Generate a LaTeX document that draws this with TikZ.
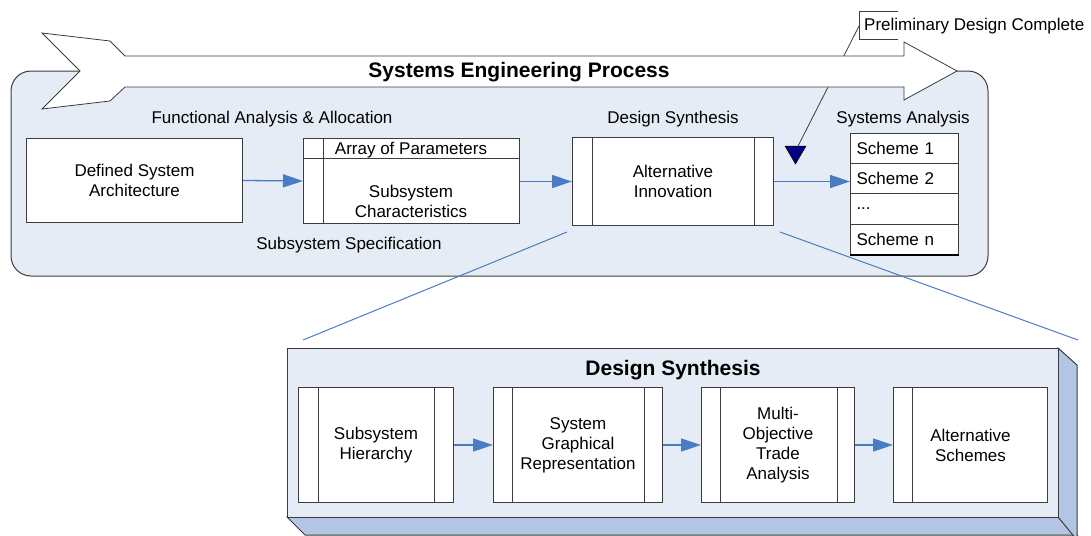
\documentclass[tikz,border=0pt]{standalone}
\usepackage{fontspec}
\setmainfont{Liberation Sans}
\usetikzlibrary{arrows.meta}
\definecolor{panel}{RGB}{230,236,246}
\definecolor{side}{RGB}{178,198,228}
\definecolor{flow}{RGB}{74,124,196}
\definecolor{edge}{RGB}{60,60,60}
\definecolor{marker}{RGB}{0,0,128}
\begin{document}
\begin{tikzpicture}[x=1pt,y=-1pt,
  font=\fontsize{17}{20}\selectfont,
  box/.style={draw=edge, fill=white, line width=1pt, inner sep=0pt,
              align=center, anchor=north west},
  bar/.style={draw=edge, line width=1pt},
  flowarrow/.style={draw=flow, line width=1.3pt,
                    -{Triangle[length=20pt,width=13pt]}},
  zoomline/.style={draw=flow, line width=1pt},
  label/.style={inner sep=0pt},
  heading/.style={inner sep=0pt, font=\fontsize{21}{24}\selectfont\bfseries}]

\useasboundingbox (0,0) rectangle (1091,535);
\clip (0,0) rectangle (1091,535);

% process panel
\draw[fill=panel, draw=edge, line width=1pt, rounded corners=20pt]
  (11,71) rectangle (988,276);

% milestone flag and its leader line (passes under the process arrow)
\coordinate (flagtip) at (795,152);
\draw[edge, line width=0.8pt] (859,26) -- (flagtip);
\draw[edge, line width=0.8pt] (898,11) -- (859,11) -- (859,39) -- (898,39);
\node[label, anchor=west] (pdc) at (864,26) {Preliminary Design Complete};

% process arrow
\draw[fill=white, draw=edge, line width=0.8pt]
  (42,33) -- (110,41) -- (125,56) -- (904,56) -- (904,42) -- (957,71)
  -- (904,100) -- (904,87) -- (125,87) -- (110,101) -- (42,109)
  -- (80,71) -- cycle;
\node[heading] (sep) at (519,72.5) {Systems Engineering Process};

% milestone marker
\fill[marker, draw=black, line width=0.5pt]
  (785,146) -- (806,146) -- (795.5,164) -- cycle;

% stage labels
\node[label] (faa) at (272,119.5) {Functional Analysis \& Allocation};
\node[label] (dsl) at (673,119.5) {Design Synthesis};
\node[label] (sal) at (903,119.5) {Systems Analysis};
\node[label] (ssp) at (349,245.5) {Subsystem Specification};

% top row
\node[box, minimum width=216pt, minimum height=84pt] (dsa) at (26,138)
  {Defined System\\Architecture};

\node[box, minimum width=216pt, minimum height=85pt] (ssc) at (303,138) {};
\draw[bar] (303,158) -- (519,158);
\draw[bar] (323,138) -- (323,223);
\node[label] (aop) at (411,150) {Array of Parameters};
\node[label, align=center] (sch) at (411,201) {Subsystem\\Characteristics};

\node[box, minimum width=201pt, minimum height=88pt] (ai) at (572,137)
  {Alternative\\Innovation};
\draw[bar] ([xshift=20pt]ai.north west) -- ([xshift=20pt]ai.south west);
\draw[bar] ([xshift=-20pt]ai.north east) -- ([xshift=-20pt]ai.south east);

% scheme list
\tikzset{scheme/.style={box, minimum width=108pt, anchor=north west,
      text width=96pt, align=left}}
\node[scheme, minimum height=30pt] (s1) at (850,133) {Scheme 1};
\node[scheme, minimum height=30pt] (s2) at (850,163) {Scheme 2};
\node[scheme, minimum height=31pt] (s3) at (850,193) {...};
\node[scheme, minimum height=30pt] (s4) at (850,224) {Scheme n};
\draw[black, line width=2pt] (s4.south west) -- (s4.south east);

% top row connectors
\draw[flowarrow] (dsa.east) -- (ssc.west);
\draw[flowarrow] (ssc.east |- ai.west) -- (ai.west);
\draw[flowarrow] (ai.east) -- (ai.east -| s2.west);

% zoom lines
\coordinate (zl) at (303,340);
\coordinate (zr) at (1078,340);
\draw[zoomline] (567,232) -- (zl);
\draw[zoomline] (780,232) -- (zr);

% design synthesis block (3-D)
\draw[fill=side, draw=edge, line width=1pt]
  (287,517) -- (1058,517) -- (1077,535) -- (305,535) -- cycle;
\draw[fill=side, draw=edge, line width=1pt]
  (1058,348) -- (1077,365) -- (1077,540) -- (1058,517) -- cycle;
\draw[fill=panel, draw=edge, line width=1pt] (287,348) rectangle (1058,517);
\node[heading] (dsh) at (673,370.5) {Design Synthesis};

\node[box, minimum width=155pt, minimum height=115pt] (sh) at (298,387)
  {Subsystem\\Hierarchy};
\draw[bar] ([xshift=20pt]sh.north west) -- ([xshift=20pt]sh.south west);
\draw[bar] ([xshift=-20pt]sh.north east) -- ([xshift=-20pt]sh.south east);

\node[box, minimum width=169pt, minimum height=115pt] (sgr) at (493,387)
  {System\\Graphical\\Representation};
\draw[bar] ([xshift=19pt]sgr.north west) -- ([xshift=19pt]sgr.south west);
\draw[bar] ([xshift=-19pt]sgr.north east) -- ([xshift=-19pt]sgr.south east);

\node[box, minimum width=153pt, minimum height=115pt] (mota) at (701,387)
  {Multi-\\Objective\\Trade\\Analysis};
\draw[bar] ([xshift=19pt]mota.north west) -- ([xshift=19pt]mota.south west);
\draw[bar] ([xshift=-18pt]mota.north east) -- ([xshift=-18pt]mota.south east);

\node[box, minimum width=154pt, minimum height=115pt] (as) at (893,387)
  {Alternative\\Schemes};
\draw[bar] ([xshift=19pt]as.north west) -- ([xshift=19pt]as.south west);

\draw[flowarrow] (sh.east) -- (sgr.west);
\draw[flowarrow] (sgr.east) -- (mota.west);
\draw[flowarrow] (mota.east) -- (as.west);
\end{tikzpicture}
\end{document}
